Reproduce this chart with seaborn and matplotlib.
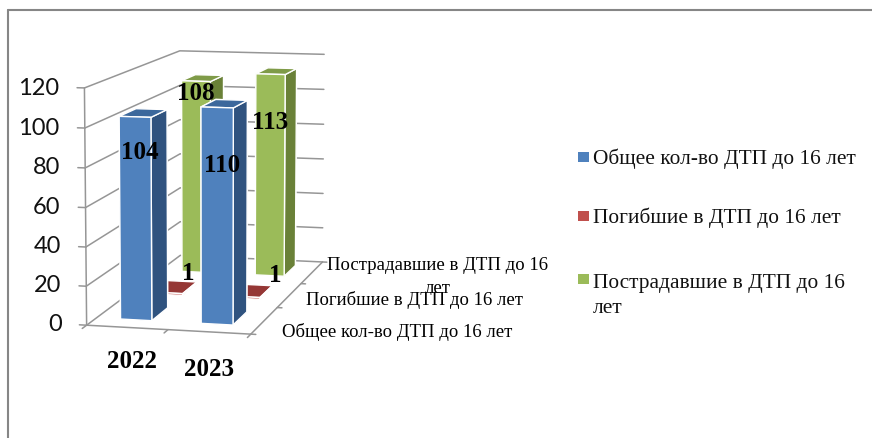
import numpy as np
import pandas as pd
import matplotlib
matplotlib.use("Agg")
import matplotlib.pyplot as plt
import seaborn as sns
from matplotlib.lines import Line2D
from matplotlib.patches import Rectangle
from mpl_toolkits.mplot3d import proj3d

years = ["2022", "2023"]
series = ["Общее кол-во ДТП до 16 лет", "Погибшие в ДТП до 16 лет", "Пострадавшие в ДТП до 16 лет"]
total = [104, 110]
killed = [1, 1]
injured = [108, 113]
value_ticks = [0, 20, 40, 60, 80, 100, 120]

df = pd.DataFrame({"year": years * 3, "series": np.repeat(series, 2), "value": total + killed + injured})

W, H = 872, 439
sns.set_theme(style="white")
plt.rcParams["font.family"] = ["Liberation Serif", "DejaVu Sans"]
colors = sns.color_palette(["#4f81bd", "#c0504d", "#9bbb59"])
tops = ["#3c689c", "#953735", "#7f9b48"]
sides = ["#30537f", "#7d2f2d", "#6a8138"]
wrapped = "Пострадавшие в ДТП до 16\nлет"

fig = plt.figure(figsize=(W / 100, H / 100), dpi=100)
ax = fig.add_subplot(projection="3d", computed_zorder=False)
ax.set_xlim(0, 2, view_margin=0)
ax.set_ylim(0, 3, view_margin=0)
ax.set_zlim(0, 120, view_margin=0)
ax.view_init(9.096, -76.41)
ax.set_proj_type("persp", focal_length=0.943)
ax.set_box_aspect((1, 2.236, 1.419))
ax.set_position([-10.486 / W, 33.367 / H, 434.34 / W, 434.34 / H])


def label(x, y, z, text, **kw):
    # put a flat label at a point of the 3d box
    px, py, _ = proj3d.proj_transform(x, y, z, ax.get_proj())
    ax.text2D(px, py, text, transform=ax.transData, color=kw.pop("color", "black"), zorder=30, **kw)


grid = "#969696"
for z in value_ticks:
    ax.plot([0, 0, 2], [0, 3, 3], [z, z, z], color=grid, lw=1.1, zorder=1)
    ax.plot([-0.09, 0], [0, 0], [z, z], color=grid, lw=1.1, zorder=1)
    label(-0.31, 0, z, str(z), ha="right", va="center", fontsize=17, family="Lato", color="#111111")
ax.plot([0, 0], [0, 0], [0, 120], color=grid, lw=1.1, zorder=1)
ax.plot([0, 2, 2], [0, 0, 3], [0, 0, 0], color=grid, lw=1.1, zorder=1)
for x in range(3):
    ax.plot([x, x], [0, -0.12], [0, 0], color=grid, lw=1.1, zorder=1)
for y in range(4):
    ax.plot([2, 2.06], [y, y], [0, 0], color=grid, lw=1.1, zorder=1)

for i, name in reversed(list(enumerate(series))):
    sub = df[df["series"] == name]
    for j, val in enumerate(sub["value"]):
        faces = [tops[i], tops[i], colors[i], colors[i], sides[i], sides[i]]
        ax.bar3d(j + 0.3, i + 0.28, 0, 0.39, 0.5, val, color=faces, shade=False, zorder=3 + (2 - i) * 2 + j)

label_z = [[87, 82], [10, 11], [102, 87]]
label_xy = [[(0.56, 0.25), (1.57, 0.25)], [(0.68, 1.5), (1.82, 1.5)], [(0.51, 2.25), (1.5, 2.25)]]
for i, name in enumerate(series):
    vals = df[df["series"] == name]["value"].tolist()
    for j, val in enumerate(vals):
        x, y = label_xy[i][j]
        label(x, y, label_z[i][j], str(val), ha="center", va="center", fontsize=18, fontweight="bold")

label(1.0, -1.05, 0, years[0], ha="center", va="center", fontsize=18, fontweight="bold")
label(1.92, -1.15, 0, years[1], ha="center", va="center", fontsize=18, fontweight="bold")
label(2.32, 0.15, 0, series[0], ha="left", va="center", fontsize=13.5)
label(2.24, 1.4, 0, series[1], ha="left", va="center", fontsize=13.5)
label(2.24, 2.37, 0, wrapped, ha="left", va="center", multialignment="center", fontsize=13.5, linespacing=1.45)
ax.set_axis_off()

# legend
legend_rows = [(159, series[0]), (218, series[1]), (281, wrapped)]
for (y, text), c in zip(legend_rows, colors):
    fig.add_artist(Rectangle((578 / W, 1 - (y + 4) / H), 11 / W, 10 / H, transform=fig.transFigure, color=c, lw=0))
    if "\n" in text:
        fig.text(593 / W, 1 - (y - 7) / H, text, va="top", fontsize=15.4, color="#111111", linespacing=1.4)
    else:
        fig.text(593 / W, 1 - y / H, text, va="center", fontsize=15.4, color="#111111")

# frame of the chart area
fig.add_artist(Line2D([8 / W, 8 / W], [0, 1 - 11 / H], color="#868686", lw=1.5))
fig.add_artist(Line2D([8 / W, 1], [1 - 11 / H, 1 - 11 / H], color="#868686", lw=1.5))

fig.savefig("out.png", dpi=100)
